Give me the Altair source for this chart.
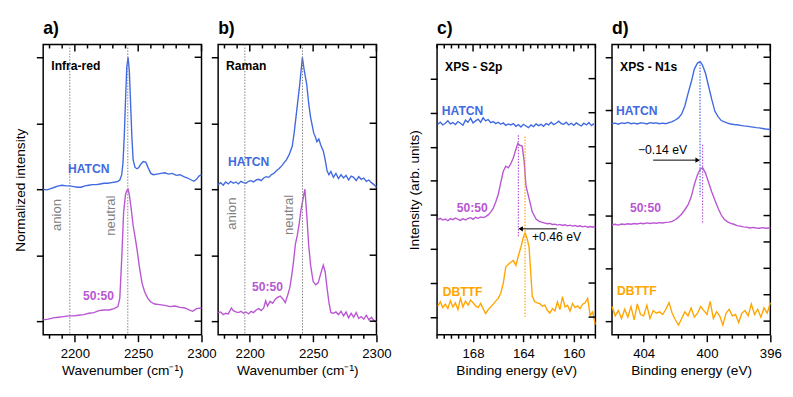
import altair as alt
import pandas as pd

FONT = "Liberation Sans"
BLUE = "#4169E1"
MAG = "#BA55D3"
ORG = "#FFA500"
GRAY = "#808080"
W, H = 162, 297
SERIES = ["HATCN", "50:50", "DBTTF"]
COLORS = [BLUE, MAG, ORG]

# ---------------- Panel a: Infra-red ----------------
ir_h_x = [2175, 2178, 2181, 2184, 2187, 2190, 2193, 2196, 2199, 2202, 2205, 2208, 2211, 2214, 2217,
          2220, 2223, 2226, 2229, 2232, 2234, 2235.5, 2237, 2238, 2239, 2240, 2241, 2242, 2243, 2244,
          2245, 2246, 2247.5, 2249, 2250.5, 2252, 2254, 2256, 2258, 2260, 2262, 2265, 2268, 2271, 2274,
          2277, 2280, 2283, 2286, 2289, 2292, 2294, 2296, 2298, 2300]
ir_h_y = [2.00, 1.99, 2.01, 2.03, 2.05, 2.06, 2.05, 2.05, 2.04, 2.03, 2.03, 2.05, 2.06, 2.07, 2.07,
          2.08, 2.09, 2.09, 2.10, 2.11, 2.12, 2.14, 2.22, 2.40, 2.80, 3.35, 3.85, 4.00, 3.80, 3.30,
          2.80, 2.45, 2.33, 2.31, 2.33, 2.38, 2.42, 2.41, 2.32, 2.24, 2.22, 2.23, 2.24, 2.25, 2.23,
          2.24, 2.21, 2.22, 2.19, 2.17, 2.14, 2.12, 2.15, 2.20, 2.22]
ir_m_x = [2175, 2179, 2183, 2187, 2191, 2195, 2199, 2203, 2207, 2211, 2215, 2219, 2223, 2227, 2231,
          2234, 2235.5, 2237, 2238.5, 2240, 2241, 2242, 2243, 2244.5, 2246, 2247.5, 2249, 2251, 2253,
          2255, 2257.5, 2260, 2263, 2267, 2271, 2275, 2279, 2283, 2287, 2290, 2293, 2296, 2300]
ir_m_y = [0.02, 0.03, 0.05, 0.06, 0.07, 0.08, 0.08, 0.09, 0.10, 0.12, 0.13, 0.16, 0.17, 0.17, 0.19,
          0.22, 0.35, 0.95, 1.65, 1.92, 1.98, 2.00, 1.92, 1.70, 1.45, 1.28, 1.10, 0.82, 0.58,
          0.45, 0.35, 0.29, 0.26, 0.25, 0.24, 0.22, 0.23, 0.21, 0.20, 0.17, 0.15, 0.19, 0.20]

# ---------------- Panel b: Raman ----------------
rm_h_x = [2175, 2177, 2179, 2181, 2183, 2185, 2187, 2189, 2191, 2193, 2195, 2197, 2199, 2201, 2203,
          2205, 2207, 2209, 2211, 2213, 2215, 2217, 2219, 2221, 2223, 2225, 2227, 2229, 2231, 2233.5,
          2235, 2236.5, 2238, 2239.5, 2241.5, 2243, 2245, 2246.5, 2248, 2250.5, 2252, 2253, 2254.5,
          2256, 2258, 2259.5, 2261, 2262.5, 2264, 2266, 2268, 2270, 2272, 2274, 2276, 2278, 2280,
          2282, 2284, 2286, 2288, 2290, 2292, 2294, 2296, 2298, 2300]
rm_h_y = [2.07, 2.10, 2.06, 2.11, 2.08, 2.12, 2.09, 2.11, 2.08, 2.12, 2.10, 2.09, 2.12, 2.13, 2.11,
          2.14, 2.15, 2.13, 2.17, 2.19, 2.18, 2.22, 2.24, 2.28, 2.31, 2.35, 2.40, 2.45, 2.52, 2.65,
          2.85, 3.10, 3.35, 3.60, 4.00, 3.80, 3.58, 3.30, 3.09, 2.85, 2.78, 2.72, 2.76,
          2.67, 2.58, 2.45, 2.28, 2.22, 2.27, 2.18, 2.24, 2.16, 2.22, 2.17, 2.21, 2.14, 2.20,
          2.18, 2.13, 2.19, 2.15, 2.17, 2.12, 2.14, 2.10, 2.07, 2.03]
rm_m_x = [2175, 2177, 2179, 2181, 2183, 2185.5, 2187, 2189, 2191, 2193, 2195, 2197, 2199, 2201, 2203,
          2205, 2207, 2209, 2211, 2212.5, 2214, 2216, 2218, 2220, 2222, 2224, 2226, 2228, 2230, 2231.5,
          2233, 2234.5, 2236, 2237.5, 2239, 2240.5, 2242, 2243.5, 2245, 2246.5, 2248, 2250, 2252,
          2254, 2256, 2258, 2259.5, 2261, 2262.5, 2264, 2266, 2268, 2270, 2272, 2274, 2276, 2278,
          2280, 2282, 2284, 2286, 2288, 2290, 2292, 2294, 2296, 2298, 2300]
rm_m_y = [0.13, 0.14, 0.10, 0.12, 0.11, 0.20, 0.16, 0.14, 0.13, 0.15, 0.12, 0.14, 0.11, 0.15, 0.13,
          0.17, 0.19, 0.16, 0.20, 0.31, 0.23, 0.30, 0.27, 0.33, 0.36, 0.38, 0.34, 0.28, 0.40, 0.50,
          0.68, 0.90, 1.17, 1.30, 1.48, 1.70, 1.85, 2.00, 1.60, 1.15, 0.85, 0.60, 0.55,
          0.58, 0.72, 0.85, 0.75, 0.50, 0.28, 0.13, 0.12, 0.14, 0.10, 0.15, 0.08, 0.14, 0.05,
          0.12, 0.06, 0.13, 0.04, 0.07, 0.03, 0.09, 0.02, 0.06, 0.01, -0.02]

# ---------------- Panel c: XPS S2p ----------------
c_grid = [170.8, 170.6, 170.4, 170.2, 170.0, 169.8, 169.6, 169.4, 169.2, 169.0,
          168.8, 168.6, 168.4, 168.2, 168.0, 167.8, 167.6, 167.4, 167.2, 167.0,
          166.8, 166.6, 166.4, 166.2, 166.0, 165.8, 165.6, 165.4, 165.2, 165.0,
          164.8, 164.6, 164.4, 164.2, 164.0, 163.8, 163.6, 163.4, 163.2, 163.0,
          162.8, 162.6, 162.4, 162.2, 162.0, 161.8, 161.6, 161.4, 161.2, 161.0,
          160.8, 160.6, 160.4, 160.2, 160.0, 159.8, 159.6, 159.4, 159.2, 159.0,
          158.8, 158.6, 158.4]
c_h_y = [5.66, 5.72, 5.64, 5.69, 5.76, 5.67, 5.71, 5.65, 5.74, 5.69,
         5.63, 5.78, 5.72, 5.84, 5.70, 5.76, 5.81, 5.72, 5.85, 5.76,
         5.80, 5.71, 5.74, 5.68, 5.72, 5.66, 5.70, 5.63, 5.67, 5.64,
         5.68, 5.60, 5.65, 5.58, 5.66, 5.61, 5.56, 5.64, 5.59, 5.67,
         5.62, 5.66, 5.60, 5.68, 5.64, 5.72, 5.65, 5.69, 5.75, 5.68,
         5.66, 5.72, 5.64, 5.69, 5.63, 5.70, 5.65, 5.61, 5.69, 5.64,
         5.71, 5.62, 5.68]
c_m_x = [170.8, 170.6, 170.4, 170.2, 170.0, 169.8, 169.6, 169.4, 169.2, 169.0,
         168.8, 168.6, 168.4, 168.2, 168.0, 167.8, 167.6, 167.4, 167.2, 167.0,
         166.8, 166.6, 166.4, 166.2, 166.0, 165.8, 165.6, 165.4, 165.2, 165.0,
         164.8, 164.6, 164.45, 164.3, 164.1, 163.95, 163.8, 163.55, 163.3, 163.0,
         162.75, 162.5, 162.3, 162.1, 161.9, 161.7, 161.5, 161.3, 161.1, 160.9,
         160.7, 160.5, 160.3, 160.1, 159.9, 159.7, 159.5, 159.3, 159.1, 158.9,
         158.7, 158.5, 158.3]
c_m_y = [2.86, 2.90, 2.85, 2.88, 2.83, 2.89, 2.86, 2.91, 2.87, 2.84,
         2.89, 2.85, 2.90, 2.92, 2.87, 2.93, 2.90, 2.94, 2.92, 2.95,
         3.00, 3.08, 3.19, 3.38, 3.60, 3.95, 4.28, 4.43, 4.38, 4.50,
         4.68, 4.92, 5.10, 5.05, 5.02, 4.60, 3.86, 3.48, 3.09, 2.88,
         2.81, 2.78, 2.76, 2.74, 2.75, 2.72, 2.73, 2.70, 2.72, 2.69,
         2.71, 2.68, 2.70, 2.67, 2.69, 2.66, 2.68, 2.65, 2.67, 2.64,
         2.66, 2.64, 2.66]
c_d_x = [170.8, 170.6, 170.4, 170.2, 170.0, 169.8, 169.6, 169.4, 169.2, 169.0,
         168.8, 168.6, 168.4, 168.2, 168.0, 167.8, 167.6, 167.4, 167.2, 167.0,
         166.8, 166.6, 166.4, 166.2, 166.0, 165.8, 165.6, 165.4, 165.2, 165.0,
         164.8, 164.6, 164.4, 164.2, 164.0, 163.87, 163.7, 163.55, 163.4, 163.3,
         163.1, 162.9, 162.7, 162.5, 162.3, 162.1, 161.9, 161.7, 161.5, 161.3,
         161.1, 160.9, 160.7, 160.5, 160.3, 160.1, 159.9, 159.7, 159.5, 159.3,
         159.1, 158.9, 158.7, 158.5, 158.3]
c_d_y = [0.32, 0.45, 0.28, 0.38, 0.25, 0.48, 0.30, 0.42, 0.22, 0.55,
         0.30, 0.47, 0.35, 0.50, 0.42, 0.33, 0.28, 0.40, 0.25, 0.10,
         0.22, 0.30, 0.38, 0.47, 0.55, 0.70, 1.00, 1.47, 1.55, 1.61,
         1.66, 1.52, 1.80, 2.05, 2.35, 2.47, 2.30, 2.04, 1.20, 0.61,
         0.45, 0.42, 0.40, 0.32, 0.35, 0.20, 0.12, 0.25, 0.18, 0.45,
         0.22, 0.60, 0.30, 0.35, 0.18, 0.40, 0.28, 0.33, 0.25, 0.38,
         0.42, 0.55, 0.05, 0.15, -0.22]

# ---------------- Panel d: XPS N1s ----------------
d_h_x = [406.0, 405.8, 405.6, 405.4, 405.2, 405.0, 404.8, 404.6, 404.4, 404.2,
         404.0, 403.8, 403.6, 403.4, 403.2, 403.0, 402.8, 402.6, 402.4, 402.2,
         402.0, 401.8, 401.6, 401.4, 401.2, 401.0, 400.8, 400.6, 400.44, 400.3,
         400.1, 399.9, 399.7, 399.5, 399.3, 399.1, 398.9, 398.7, 398.5, 398.3,
         398.1, 397.9, 397.7, 397.5, 397.3, 397.1, 396.9, 396.7, 396.5, 396.3, 396.0]
d_h_y = [7.48, 7.50, 7.46, 7.51, 7.49, 7.53, 7.48, 7.50, 7.47, 7.51,
         7.50, 7.47, 7.52, 7.50, 7.51, 7.48, 7.50, 7.48, 7.52, 7.56,
         7.62, 7.70, 7.85, 8.15, 8.62, 9.05, 9.55, 9.78, 9.83, 9.72,
         9.40, 8.90, 8.40, 7.95, 7.75, 7.60, 7.55, 7.50, 7.47, 7.45,
         7.44, 7.42, 7.40, 7.39, 7.37, 7.35, 7.33, 7.32, 7.30, 7.28, 7.26]
d_m_x = [406.0, 405.8, 405.6, 405.4, 405.2, 405.0, 404.8, 404.6, 404.4, 404.2,
         404.0, 403.8, 403.6, 403.4, 403.2, 403.0, 402.8, 402.6, 402.4, 402.2,
         402.0, 401.8, 401.6, 401.4, 401.2, 401.0, 400.8, 400.6, 400.44, 400.28,
         400.1, 399.9, 399.7, 399.5, 399.3, 399.1, 398.9, 398.7, 398.5, 398.3,
         398.1, 397.9, 397.7, 397.5, 397.3, 397.1, 396.9, 396.7, 396.5, 396.3, 396.0]
d_m_y = [3.65, 3.67, 3.64, 3.68, 3.66, 3.69, 3.67, 3.70, 3.68, 3.71,
         3.69, 3.72, 3.70, 3.72, 3.71, 3.73, 3.72, 3.74, 3.75, 3.78,
         3.84, 3.94, 4.06, 4.22, 4.40, 4.70, 5.18, 5.55, 5.75, 5.81,
         5.62, 5.25, 4.89, 4.58, 4.28, 4.02, 3.85, 3.76, 3.70, 3.67,
         3.62, 3.60, 3.57, 3.56, 3.53, 3.55, 3.53, 3.52, 3.54, 3.52, 3.53]
d_d_x = [406.0, 405.8, 405.6, 405.4, 405.2, 405.0, 404.8, 404.6, 404.4, 404.2,
         404.0, 403.8, 403.6, 403.4, 403.2, 403.0, 402.8, 402.6, 402.4, 402.2,
         402.0, 401.8, 401.6, 401.4, 401.2, 401.0, 400.8, 400.6, 400.4, 400.2,
         400.0, 399.8, 399.6, 399.4, 399.2, 399.0, 398.8, 398.6, 398.4, 398.2,
         398.0, 397.8, 397.6, 397.4, 397.2, 397.0, 396.8, 396.6, 396.4, 396.2, 396.0]
d_d_y = [0.55, 0.20, 0.40, 0.10, 0.45, 0.15, 0.55, 0.05, 0.65, 0.25,
         0.20, 0.60, 0.10, 0.40, 0.30, 0.35, 0.25, 0.45, 0.70, 0.30,
         0.05, -0.15, 0.10, 0.35, 0.20, 0.50, 0.15, 0.30, 0.55, 0.40,
         0.25, 0.75, 0.10, 0.35, 0.20, -0.15, 0.30, 0.45, 0.20, 0.25,
         -0.05, 0.30, 0.40, 0.20, 0.65, 0.25, 0.45, 0.15, 0.50, 0.30, 0.70]

# ---------------- Axes ticks / domains ----------------
wn_domain = [2175, 2300]
wn_major = [2200, 2250, 2300]
wn_minor = [2180, 2190, 2210, 2220, 2230, 2240, 2260, 2270, 2280, 2290]
ab_y_domain = [-0.207, 4.193]
ab_y_ticks = [0, 1, 2, 3, 4]
c_domain = [170.857, 158.286]
c_major = [168, 164, 160]
c_minor = [170.857, 170.286, 169.714, 169.143, 168.571, 167.429, 166.857, 166.286, 165.714,
           165.143, 164.571, 163.429, 162.857, 162.286, 161.714, 161.143, 160.571,
           159.429, 158.857, 158.286]
c_y_domain = [-0.52, 8.0]
c_y_ticks = [0, 1, 2, 3, 4, 5, 6, 7]
d_domain = [406, 396]
d_major = [404, 400, 396]
d_minor = [405.6, 404.8, 403.2, 402.4, 401.6, 400.8, 399.2, 398.4, 397.6, 396.8]
d_y_domain = [-0.52, 10.48]
d_y_ticks = [0, 1, 2, 3, 4, 5, 6, 7, 8, 9, 10]


def xaxis(values, title):
    return alt.Axis(values=values, title=title, grid=False, domain=False, format="d",
                    tickSize=7, tickWidth=1.5, tickColor="black",
                    labelFlush=False, labelOverlap=False, labelFont=FONT, labelFontSize=13.5,
                    labelColor="black", labelPadding=5, titleFont=FONT, titleFontSize=14,
                    titleFontWeight="normal", titleColor="black", titlePadding=4)


def yaxis(values, title):
    if title:
        return alt.Axis(values=values, labels=False, grid=False, domain=False, tickSize=7,
                        tickWidth=1.5, tickColor="black", title=title, titleFont=FONT,
                        titleFontSize=14, titleFontWeight="normal", titleColor="black",
                        titlePadding=8)
    return alt.Axis(values=values, labels=False, grid=False, domain=False, tickSize=7,
                    tickWidth=1.5, tickColor="black", title="")


def X(xs):
    return alt.X("x:Q", scale=xs)


def Y(ys):
    return alt.Y("y:Q", scale=ys)


def lines(series, xs, ys, xax, yax):
    frames = [pd.DataFrame({"x": xv, "y": yv, "s": name}) for name, xv, yv in series]
    df = pd.concat(frames, ignore_index=True)
    return alt.Chart(df).mark_line(strokeWidth=1.4).encode(
        x=alt.X("x:Q", scale=xs, axis=xax),
        y=alt.Y("y:Q", scale=ys, axis=yax),
        color=alt.Color("s:N", scale=alt.Scale(domain=SERIES, range=COLORS), legend=None),
        detail="s:N",
    )


def texts(xv, yv, labels, colors, xs, ys, size=12.4, weight="bold", angle=0, align="left"):
    df = pd.DataFrame({"x": xv, "y": yv, "t": labels, "c": colors})
    return alt.Chart(df).mark_text(font=FONT, fontSize=size, fontWeight=weight, angle=angle,
                                   align=align, baseline="middle").encode(
        x=X(xs), y=Y(ys), text="t:N", color=alt.Color("c:N", scale=None))


def frame_ticks(major, minor, yt, xs, ys):
    def rule(vals, y0, y1):
        return alt.Chart(pd.DataFrame({"x": vals})).mark_rule(color="black", strokeWidth=1.5).encode(
            x=X(xs), y=alt.value(y0), y2=alt.value(y1))
    right = alt.Chart(pd.DataFrame({"y": yt})).mark_rule(color="black", strokeWidth=1.5).encode(
        y=Y(ys), x=alt.value(W - 7), x2=alt.value(W))
    return [rule(major, 0, 7), rule(minor, 0, 4), rule(minor, H, H + 4), right]


def vlines(xv, xs):
    return alt.Chart(pd.DataFrame({"x": xv})).mark_rule(
        color=GRAY, strokeWidth=1, strokeDash=[1.5, 1.5]).encode(x=X(xs))


def vsegs(xv, y1, y2, colors, xs, ys):
    df = pd.DataFrame({"x": xv, "y": y1, "y2": y2, "c": colors})
    return alt.Chart(df).mark_rule(strokeWidth=1.2, strokeDash=[1.5, 1.5]).encode(
        x=X(xs), y=Y(ys), y2="y2:Q", color=alt.Color("c:N", scale=None))


def arrow(x0, x1, yv, head_x, shape, xs, ys):
    line = alt.Chart(pd.DataFrame({"x": [x0], "x2": [x1], "y": [yv]})).mark_rule(
        color="black", strokeWidth=1).encode(x=X(xs), x2="x2:Q", y=Y(ys))
    head = alt.Chart(pd.DataFrame({"x": [head_x], "y": [yv]})).mark_point(
        shape=shape, filled=True, color="black", size=28, opacity=1).encode(x=X(xs), y=Y(ys))
    return [line, head]


def ptitle(t):
    return alt.TitleParams(t, anchor="start", frame="group", fontSize=18, fontWeight="bold",
                           font=FONT, offset=6, color="black")


# Panel a
xa = alt.Scale(domain=wn_domain, nice=False, zero=False)
ya = alt.Scale(domain=ab_y_domain, nice=False, zero=False)
panel_a = alt.layer(
    lines([("HATCN", ir_h_x, ir_h_y), ("50:50", ir_m_x, ir_m_y)], xa, ya,
          xaxis(wn_major, "Wavenumber (cm\u207b\u00b9)"), yaxis(ab_y_ticks, "Normalized intensity")),
    vlines([2196, 2241.8], xa),
    texts([2181.4], [3.86], ["Infra-red"], ["black"], xa, ya),
    texts([2194.6, 2206.4], [2.30, 0.375], ["HATCN", "50:50"], [BLUE, MAG], xa, ya),
    texts([2186.3, 2228.8], [1.61, 1.60], ["anion", "neutral"], [GRAY, GRAY], xa, ya,
          size=13.5, weight="normal", angle=270, align="center"),
    *frame_ticks(wn_major, wn_minor, ab_y_ticks, xa, ya),
).properties(width=W, height=H, title=ptitle("a)"))

# Panel b
xb = alt.Scale(domain=wn_domain, nice=False, zero=False)
yb = alt.Scale(domain=ab_y_domain, nice=False, zero=False)
panel_b = alt.layer(
    lines([("HATCN", rm_h_x, rm_h_y), ("50:50", rm_m_x, rm_m_y)], xb, yb,
          xaxis(wn_major, "Wavenumber (cm\u207b\u00b9)"), yaxis(ab_y_ticks, None)),
    vlines([2196.1, 2241.6], xb),
    texts([2181.2], [3.86], ["Raman"], ["black"], xb, yb),
    texts([2182.7, 2201.8], [2.41, 0.51], ["HATCN", "50:50"], [BLUE, MAG], xb, yb),
    texts([2185.8, 2230.8], [1.63, 1.61], ["anion", "neutral"], [GRAY, GRAY], xb, yb,
          size=13.5, weight="normal", angle=270, align="center"),
    *frame_ticks(wn_major, wn_minor, ab_y_ticks, xb, yb),
).properties(width=W, height=H, title=ptitle("b)"))

# Panel c
xc = alt.Scale(domain=c_domain, nice=False, zero=False)
yc = alt.Scale(domain=c_y_domain, nice=False, zero=False)
panel_c = alt.layer(
    lines([("HATCN", c_grid, c_h_y), ("50:50", c_m_x, c_m_y), ("DBTTF", c_d_x, c_d_y)], xc, yc,
          xaxis(c_major, "Binding energy (eV)"), yaxis(c_y_ticks, "Intensity (arb. units)")),
    vsegs([164.4, 163.87], [5.34, 5.30], [2.36, 0.0], [MAG, ORG], xc, yc),
    texts([170.22], [7.34], ["XPS - S2p"], ["black"], xc, yc),
    texts([170.48, 169.30, 170.40], [6.04, 3.19, 0.72], ["HATCN", "50:50", "DBTTF"],
          [BLUE, MAG, ORG], xc, yc),
    *arrow(161.35, 164.25, 2.59, 164.22, "triangle-left", xc, yc),
    texts([163.32], [2.36], ["+0.46 eV"], ["black"], xc, yc, size=12.5, weight="normal"),
    *frame_ticks(c_major, c_minor, c_y_ticks, xc, yc),
).properties(width=W, height=H, title=ptitle("c)"))

# Panel d
xd = alt.Scale(domain=d_domain, nice=False, zero=False)
yd = alt.Scale(domain=d_y_domain, nice=False, zero=False)
panel_d = alt.layer(
    lines([("HATCN", d_h_x, d_h_y), ("50:50", d_m_x, d_m_y), ("DBTTF", d_d_x, d_d_y)], xd, yd,
          xaxis(d_major, "Binding energy (eV)"), yaxis(d_y_ticks, None)),
    vsegs([400.44, 400.28], [9.83, 6.68], [4.70, 3.69], [BLUE, MAG], xd, yd),
    texts([405.49], [9.64], ["XPS - N1s"], ["black"], xd, yd),
    texts([405.75, 404.87, 405.69], [7.95, 4.27, 1.12], ["HATCN", "50:50", "DBTTF"],
          [BLUE, MAG, ORG], xd, yd),
    *arrow(403.4, 400.6, 6.1, 400.59, "triangle-right", xd, yd),
    texts([402.81], [6.49], ["\u22120.14 eV"], ["black"], xd, yd, size=12.5, weight="normal",
          align="center"),
    *frame_ticks(d_major, d_minor, d_y_ticks, xd, yd),
).properties(width=W, height=H, title=ptitle("d)"))

spacer = alt.Chart(pd.DataFrame({"v": [0]})).mark_point(opacity=0).encode(
    x=alt.X("v:Q", axis=None), y=alt.Y("v:Q", axis=None)
).properties(width=28, height=H, view=alt.ViewBackground(stroke="transparent"))

chart = alt.hconcat(panel_a, panel_b, spacer, panel_c, panel_d, spacing=17, bounds="flush").properties(
    padding={"left": 5, "top": 7, "right": 2, "bottom": 5}
).configure_view(stroke="black", strokeWidth=1.5)

chart.save("out.html", embed_options={"renderer": "svg", "actions": False})
